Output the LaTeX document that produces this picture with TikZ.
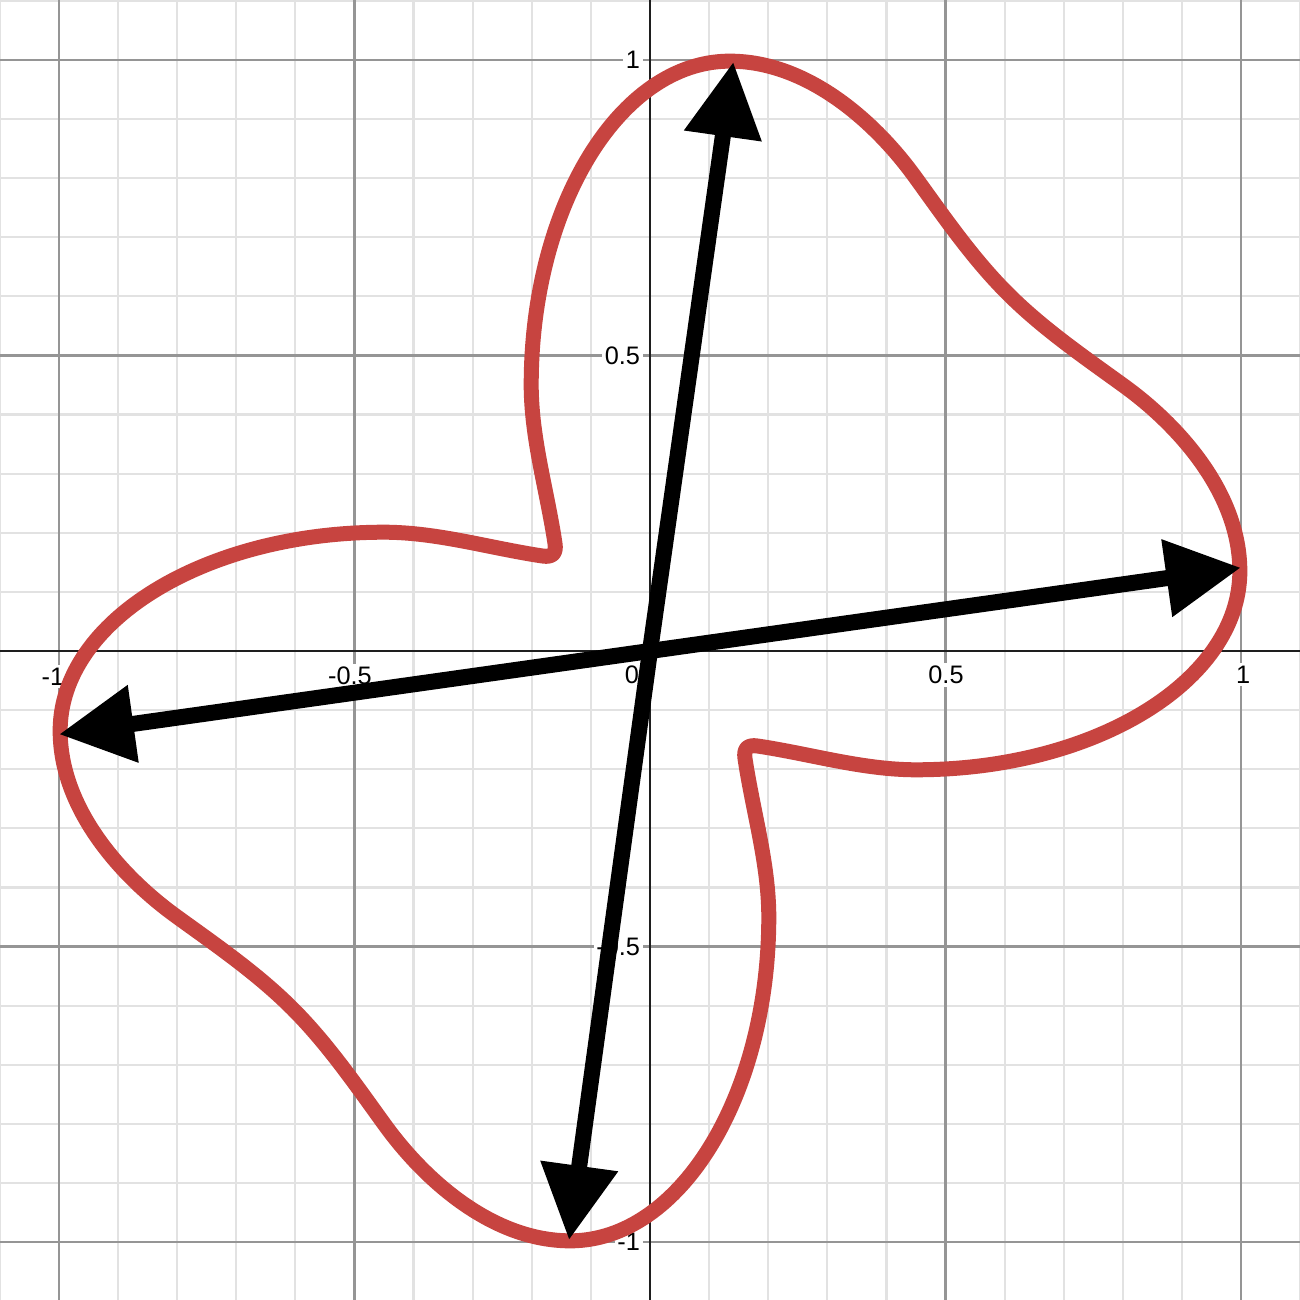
\documentclass[tikz,border=0pt]{standalone}
\usepackage{fontspec}
\setmainfont{Liberation Sans}
\usetikzlibrary{arrows.meta}
\definecolor{dred}{HTML}{C74440}
\definecolor{majgrid}{HTML}{959595}
\definecolor{mingrid}{HTML}{E2E2E2}
\definecolor{axiscol}{HTML}{1E1E1E}
\begin{document}
\begin{tikzpicture}[x=5.91cm,y=5.91cm,
  minorline/.style={draw=mingrid, line width=0.022cm},
  majorline/.style={draw=majgrid, line width=0.022cm},
  axisline/.style={draw=axiscol, line width=0.028cm},
  ticklabel/.style={font=\fontsize{7.2pt}{8pt}\selectfont, fill=white, inner sep=0.8pt, text=black},
  curve/.style={draw=dred, line width=0.15cm, line join=round},
  vec/.style={draw=black, line width=0.16cm, -{Triangle[length=0.75cm,width=0.74cm]}}]
\useasboundingbox (-1.0998,-1.0981) rectangle (1.0998,1.1015);
\clip (-1.0998,-1.0981) rectangle (1.0998,1.1015);
\fill[white] (-1.0998,-1.0981) rectangle (1.0998,1.1015);
% grid
\foreach \i in {-11,...,11} {
  \draw[minorline] (\i/10,-1.2) -- (\i/10,1.2);
  \draw[minorline] (-1.2,\i/10) -- (1.2,\i/10);
}
\foreach \v in {-1,-0.5,0.5,1} {
  \draw[majorline] (\v,-1.2) -- (\v,1.2);
  \draw[majorline] (-1.2,\v) -- (1.2,\v);
}
\draw[axisline] (-1.2,0) -- (1.2,0);
\draw[axisline] (0,-1.2) -- (0,1.2);
% tick labels
\node[ticklabel] (xm1) at (-1.0102,-0.043) {-1};
\node[ticklabel] (xm05) at (-0.5076,-0.042) {-0.5};
\node[ticklabel] (x0) at (-0.0305,-0.040) {0};
\node[ticklabel] (x05) at (0.5008,-0.041) {0.5};
\node[ticklabel] (x1) at (1.0034,-0.040) {1};
\node[ticklabel, anchor=east] (y1) at (-0.011,1.0) {1};
\node[ticklabel, anchor=east] (y05) at (-0.011,0.5) {0.5};
\node[ticklabel, anchor=east] (ym05) at (-0.011,-0.5) {-0.5};
\node[ticklabel, anchor=east] (ym1) at (-0.011,-1.0) {-1};
% curve
\draw[curve] (0.605,0.605)
 .. controls (0.664,0.546) and (0.733,0.4985) .. (0.80,0.45)
 .. controls (0.8974,0.380) and (0.998,0.265) .. (0.998,0.135)
 .. controls (0.998,-0.0506) and (0.7527,-0.201) .. (0.45,-0.201)
 .. controls (0.36,-0.201) and (0.2707,-0.1740) .. (0.1817,-0.1607)
 .. controls (0.1652,-0.1582) and (0.1582,-0.1652) .. (0.1607,-0.1817)
 .. controls (0.1740,-0.2707) and (0.201,-0.36) .. (0.201,-0.45)
 .. controls (0.201,-0.7527) and (0.0506,-0.998) .. (-0.135,-0.998)
 .. controls (-0.265,-0.998) and (-0.38,-0.8974) .. (-0.45,-0.8)
 .. controls (-0.4985,-0.733) and (-0.546,-0.664) .. (-0.605,-0.605)
 .. controls (-0.664,-0.546) and (-0.733,-0.4985) .. (-0.80,-0.45)
 .. controls (-0.8974,-0.380) and (-0.998,-0.265) .. (-0.998,-0.135)
 .. controls (-0.998,0.0506) and (-0.7527,0.201) .. (-0.45,0.201)
 .. controls (-0.36,0.201) and (-0.2707,0.1740) .. (-0.1817,0.1607)
 .. controls (-0.1652,0.1582) and (-0.1582,0.1652) .. (-0.1607,0.1817)
 .. controls (-0.1740,0.2707) and (-0.201,0.36) .. (-0.201,0.45)
 .. controls (-0.201,0.7527) and (-0.0506,0.998) .. (0.135,0.998)
 .. controls (0.265,0.998) and (0.38,0.8974) .. (0.45,0.8)
 .. controls (0.4985,0.733) and (0.546,0.664) .. (0.605,0.605) -- cycle;
% vectors
\coordinate (O) at (0,0);
\coordinate (R) at (1.0,0.141);
\coordinate (T) at (0.141,0.997);
\coordinate (L) at (-1.0,-0.141);
\coordinate (B) at (-0.137,-0.997);
\draw[vec] (O) -- (R);
\draw[vec] (O) -- (T);
\draw[vec] (O) -- (L);
\draw[vec] (O) -- (B);
\end{tikzpicture}
\end{document}
